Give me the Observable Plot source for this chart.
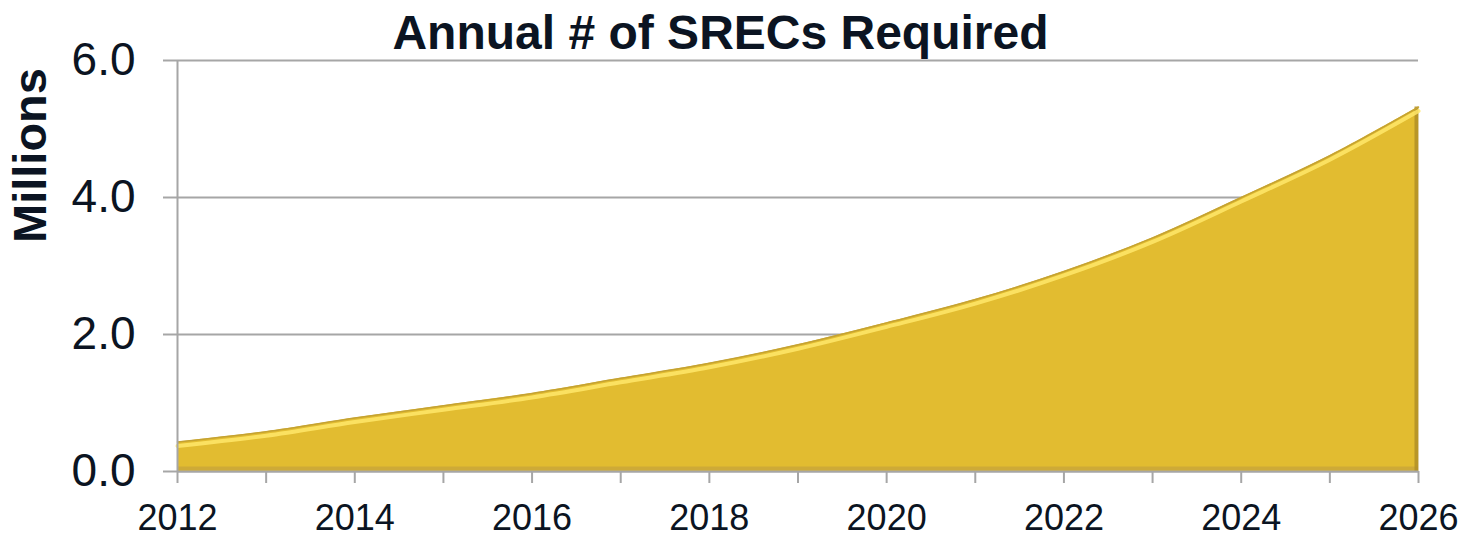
<!DOCTYPE html>
<html>
<head>
<meta charset="utf-8">
<script src="https://cdn.jsdelivr.net/npm/d3@7"></script>
<script src="https://cdn.jsdelivr.net/npm/@observablehq/plot@0.6"></script>
<style>
  html, body { margin: 0; padding: 0; background: #ffffff; }
  svg { display: block; }
</style>
</head>
<body>
<div id="chart"></div>
<script>
// ---- Data ----
const years  = [2012, 2013, 2014, 2015, 2016, 2017, 2018, 2019, 2020, 2021, 2022, 2023, 2024, 2025, 2026];
const values = [0.43, 0.58, 0.78, 0.96, 1.14, 1.36, 1.58, 1.85, 2.17, 2.51, 2.92, 3.41, 4.00, 4.61, 5.32];
const yTicks = [0, 2, 4, 6];
const xLabelTicks = [2012, 2014, 2016, 2018, 2020, 2022, 2024, 2026];
const title = "Annual # of SRECs Required";
const yTitle = "Millions";

const data = years.map((year, i) => ({year, value: values[i]}));
const last = [data[data.length - 1]];

const textColor = "#0b1422";
const gridColor = "#a6a6a6";
const gold = "#e2bc30";

const chart = Plot.plot({
  width: 1474,
  height: 536,
  marginLeft: 177,
  marginRight: 56,
  marginTop: 60,
  marginBottom: 65,
  style: {background: "#ffffff", fontFamily: "'Liberation Sans', Arial, sans-serif", overflow: "visible"},
  x: {type: "linear", domain: [2012, 2026]},
  y: {domain: [0, 6]},
  marks: [
    // gridlines
    Plot.ruleY(yTicks, {stroke: gridColor, strokeWidth: 2}),
    // area with bevel-like styling
    Plot.areaY(data, {x: "year", y: "value", curve: "catmull-rom", fill: gold}),
    Plot.ruleY([0], {x1: 2012, x2: 2026, dy: -3, stroke: "#c9a53a", strokeWidth: 4, strokeOpacity: 0.8}),
    Plot.ruleX(last, {x: "year", y1: 0, y2: "value", dx: -2, stroke: "#b08f27", strokeWidth: 4, strokeOpacity: 0.85}),
    Plot.lineY(data, {x: "year", y: "value", curve: "catmull-rom", dy: 4, stroke: "#ffe86a", strokeWidth: 4, strokeOpacity: 0.85}),
    Plot.lineY(data, {x: "year", y: "value", curve: "catmull-rom", stroke: "#c4a233", strokeWidth: 1.5}),
    // axis lines
    Plot.ruleX([2012], {y1: 0, y2: 6, stroke: gridColor, strokeWidth: 2}),
    Plot.ruleY([0], {stroke: gridColor, strokeWidth: 2}),
    // y axis
    Plot.axisY({
      ticks: yTicks, tickFormat: d3.format(".1f"), tickSize: 14, tickPadding: 28,
      fontSize: 46, stroke: gridColor, strokeWidth: 2, fill: textColor, dy: 0, label: null
    }),
    // x axis: minor ticks every year
    Plot.axisX({
      ticks: years, tickFormat: () => "", tickSize: 12,
      stroke: gridColor, strokeWidth: 2, label: null
    }),
    // x axis labels every two years
    Plot.axisX({
      ticks: xLabelTicks, tickFormat: d => String(d), tickSize: 0, tickPadding: 33,
      fontSize: 36, fill: textColor, label: null
    }),
    // title
    Plot.text([title], {
      frameAnchor: "top-left", dx: 543, dy: -46, textAnchor: "middle",
      fontSize: 48, fontWeight: "bold", fill: textColor
    }),
    // y axis title
    Plot.text([yTitle], {
      frameAnchor: "top-left", dx: -165, dy: 95, rotate: -90, textAnchor: "middle",
      fontSize: 47, fontWeight: "bold", fill: textColor
    })
  ]
});

document.getElementById("chart").appendChild(chart);
</script>
</body>
</html>
